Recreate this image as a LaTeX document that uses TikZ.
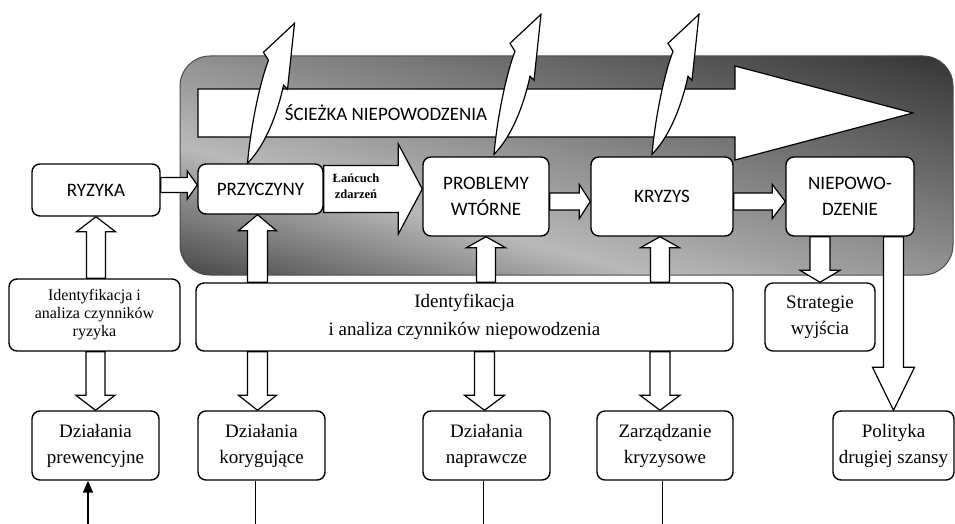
\documentclass[tikz,border=0pt]{standalone}
\usepackage{fontspec}
\setmainfont{Liberation Serif}
\newfontfamily\serf{Liberation Serif}
\newfontfamily\sansf{Carlito}
\usetikzlibrary{calc,arrows.meta}

\definecolor{panellight}{HTML}{B9B9B9}
\definecolor{paneltr}{HTML}{2C2C2C}
\definecolor{panelbl}{HTML}{3E3E3E}
\pgfdeclareverticalshading{panelshade}{100bp}{color(0bp)=(panelbl); color(25bp)=(panelbl); color(40bp)=(panellight); color(75bp)=(paneltr); color(100bp)=(paneltr)}

% #1 from, #2 to, #3 half shaft width, #4 half head width, #5 head length
\newcommand\blockarrow[5]{%
  \coordinate (bas) at (#1);
  \coordinate (bae) at (#2);
  \coordinate (bah) at ($(bae)!#5!(bas)$);
  \draw[barr] ($(bas)!#3!90:(bae)$) -- ($(bah)!#3!90:(bae)$) -- ($(bah)!#4!90:(bae)$)
    -- (bae) -- ($(bah)!#4!-90:(bae)$) -- ($(bah)!#3!-90:(bae)$) -- ($(bas)!#3!-90:(bae)$) -- cycle;
}

\begin{document}
\begin{tikzpicture}[x=1pt,y=-1pt,
  box/.style={draw=black, fill=white, line width=1.4pt, rounded corners=8pt, align=center, inner sep=0pt},
  capbox/.style={box, font=\sansf\fontsize{19}{26}\selectfont},
  serbox/.style={box, font=\serf\fontsize{19}{26}\selectfont},
  smallbox/.style={box, font=\serf\fontsize{16}{18}\selectfont},
  barr/.style={draw=black, fill=white, line width=1.2pt, line join=miter},
  curvarr/.pic={\draw[barr] (0,0) .. controls (3,-35) and (12,-80) .. (21,-103) -- (16,-111) -- (47,-140)
     -- (40,-74) -- (36,-78) .. controls (30,-50) and (18,-18) .. cycle;},
  thinline/.style={draw=black, line width=0.8pt},
]
\useasboundingbox (0,0) rectangle (955,524);

% dark background panel with a diagonal light band
\begin{scope}
  \clip[rounded corners=30pt] (180,56) rectangle (953,275);
  \begin{scope}[transform canvas={rotate around={-15.5:(200,150)}}]
    \shade[shading=panelshade] (80,-160) rectangle (1020,285);
  \end{scope}
\end{scope}
\draw[rounded corners=30pt, draw=black!70, line width=1pt] (180,56) rectangle (953,275);

% path arrow
\draw[barr] (198,89) -- (735,89) -- (735,66) -- (913,113) -- (735,160) -- (735,137) -- (198,137) -- cycle;
\node[font=\sansf\fontsize{19}{22}\selectfont] (sciezka) at (386,113) {ŚCIEŻKA NIEPOWODZENIA};

% upper boxes
\node[capbox, minimum width=128pt, minimum height=52pt] (ryz) at (96,190) {RYZYKA};
\node[capbox, minimum width=125pt, minimum height=50pt] (prz) at (260.5,189) {PRZYCZYNY};
\node[capbox, minimum width=126pt, minimum height=79pt] (pw) at (486,196.5) {PROBLEMY\\WTÓRNE};
\node[capbox, minimum width=142pt, minimum height=79pt] (kr) at (662,196.5) {KRYZYS};
\node[capbox, minimum width=128pt, minimum height=79pt] (np) at (850,196.5) {NIEPOWO-\\DZENIE};

% wavy arrows leaving the path
\pic at ([xshift=-13pt]prz.north) {curvarr};
\pic at ([xshift=8pt,yshift=2pt]pw.north) {curvarr};
\pic at ([xshift=-10pt,yshift=2pt]kr.north) {curvarr};

% middle boxes
\node[smallbox, minimum width=171pt, minimum height=72pt] (idr) at (94.5,315) {Identyfikacja i\\analiza czynników\\ryzyka};
\node[serbox, font=\serf\fontsize{19}{28}\selectfont, minimum width=537pt, minimum height=68pt] (idn) at (464.5,317) {Identyfikacja\\i analiza czynników niepowodzenia};
\node[serbox, minimum width=110pt, minimum height=68pt] (str) at (820,317) {Strategie\\wyjścia};

% bottom boxes
\node[serbox, minimum width=127pt, minimum height=69pt] (dp) at (95.5,445.5) {Działania\\prewencyjne};
\node[serbox, minimum width=127pt, minimum height=69pt] (dk) at (261.5,445.5) {Działania\\korygujące};
\node[serbox, minimum width=127pt, minimum height=69pt] (dn) at (486.5,445.5) {Działania\\naprawcze};
\node[serbox, minimum width=136pt, minimum height=69pt] (zk) at (665,445.5) {Zarządzanie\\kryzysowe};
\node[serbox, minimum width=121pt, minimum height=69pt] (pol) at (893.5,445.5) {Polityka\\drugiej szansy};

% horizontal block arrows
\coordinate (r1) at ([yshift=5pt]ryz.east);
\blockarrow{r1}{r1 -| prz.west}{7.5pt}{14pt}{10pt}
\blockarrow{prz.east}{prz.east -| pw.west}{23.5pt}{45pt}{24pt}
\node[font=\serf\bfseries\fontsize{12.5}{16}\selectfont, align=center] (lancuch) at (356,186) {Łańcuch\\zdarzeń};
\coordinate (r2) at ([yshift=-5pt]pw.east);
\blockarrow{r2}{r2 -| kr.west}{8.5pt}{17pt}{11pt}
\coordinate (r3) at ([yshift=-5pt]kr.east);
\blockarrow{r3}{r3 -| np.west}{8.5pt}{17pt}{13pt}

% vertical block arrows
\blockarrow{idr.north -| ryz.south}{ryz.south}{9.5pt}{19.5pt}{15pt}
\blockarrow{idr.south -| dp.north}{dp.north}{9.5pt}{19.5pt}{15pt}
\coordinate (u1) at ([xshift=-3pt]prz.south);
\blockarrow{idn.north -| u1}{u1}{10pt}{19pt}{16pt}
\blockarrow{idn.north -| pw.south}{pw.south}{9.5pt}{19.5pt}{11pt}
\coordinate (u3) at ([xshift=-2pt]kr.south);
\blockarrow{idn.north -| u3}{u3}{9.5pt}{19.5pt}{11pt}
\coordinate (d1) at ([xshift=-4pt]dk.north);
\blockarrow{idn.south -| d1}{d1}{10pt}{19pt}{15pt}
\coordinate (d2) at ([xshift=-2pt]dn.north);
\blockarrow{idn.south -| d2}{d2}{10pt}{20pt}{15pt}
\coordinate (d3) at ([xshift=-5pt]zk.north);
\blockarrow{idn.south -| d3}{d3}{10pt}{20pt}{15pt}
\blockarrow{np.south -| str.north}{str.north}{10pt}{20pt}{12pt}
\blockarrow{np.south -| pol.north}{pol.north}{10pt}{21pt}{43pt}

% lines at the bottom
\coordinate (b0) at (88,524);
\draw[line width=1.8pt, -{Triangle[length=12pt,width=10pt]}] (b0) -- (b0 |- dp.south);
\coordinate (t1) at (255,524);
\coordinate (t2) at (483,524);
\coordinate (t3) at (662,524);
\draw[thinline] (t1 |- dk.south) -- (t1);
\draw[thinline] (t2 |- dn.south) -- (t2);
\draw[thinline] (t3 |- zk.south) -- (t3);
\end{tikzpicture}
\end{document}
